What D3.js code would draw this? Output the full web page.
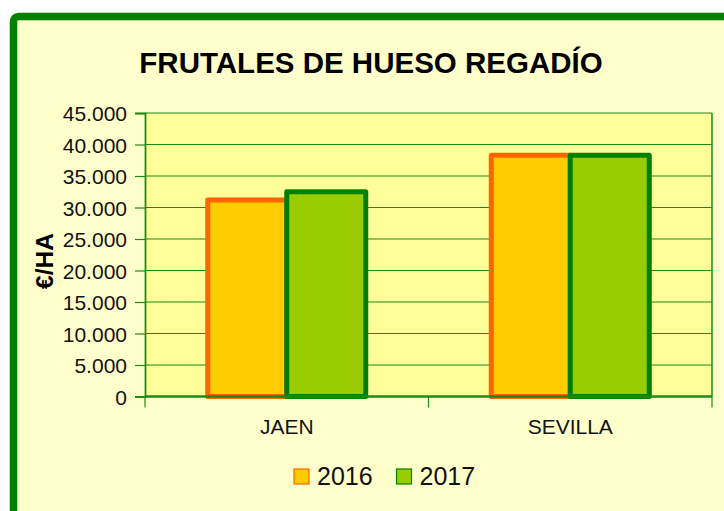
<!DOCTYPE html>
<html>
<head>
<meta charset="utf-8">
<script src="https://cdn.jsdelivr.net/npm/d3@7"></script>
<style>
  html, body { margin: 0; padding: 0; background: #fff; }
  svg { display: block; font-family: "Liberation Sans", Arial, sans-serif; }
</style>
</head>
<body>
<div id="chart"></div>
<script>
const categories = ["JAEN", "SEVILLA"]
const series = ["2016", "2017"]
const values2016 = [31200, 38300]
const values2017 = [32500, 38300]
const yTicks = [0, 5000, 10000, 15000, 20000, 25000, 30000, 35000, 40000, 45000]

const width = 724
const height = 511
const plot = { left: 145, right: 712, top: 113, bottom: 396.5 }

const fills = { "2016": "#FFCC00", "2017": "#99CC00" }
const strokes = { "2016": "#FF6600", "2017": "#008000" }

const svg = d3.select("#chart")
  .append("svg")
  .attr("width", width)
  .attr("height", height)

// outer frame, runs off the right and bottom edge like the original
svg.append("rect")
  .attr("x", 13.5)
  .attr("y", 16.5)
  .attr("width", 760)
  .attr("height", 560)
  .attr("rx", 5)
  .attr("fill", "#FFFFCC")
  .attr("stroke", "#008000")
  .attr("stroke-width", 7.5)

svg.append("text")
  .attr("x", 371)
  .attr("y", 73)
  .attr("text-anchor", "middle")
  .attr("font-size", "29.5px")
  .attr("font-weight", "bold")
  .attr("fill", "#000")
  .text("FRUTALES DE HUESO REGADÍO")

const y = d3.scaleLinear()
  .domain([0, 45000])
  .range([plot.bottom, plot.top])

const x0 = d3.scaleBand()
  .domain(categories)
  .range([plot.left, plot.right])
  .paddingInner(0.4427)
  .paddingOuter(0.2213)

const x1 = d3.scaleBand()
  .domain(series)
  .range([0, x0.bandwidth()])

// plot background
svg.append("rect")
  .attr("x", plot.left)
  .attr("y", plot.top)
  .attr("width", plot.right - plot.left)
  .attr("height", plot.bottom - plot.top)
  .attr("fill", "#FFFF99")

// grid lines
svg.append("g")
  .selectAll("line")
  .data(yTicks.filter(d => d > 0))
  .enter().append("line")
  .attr("x1", plot.left)
  .attr("x2", plot.right)
  .attr("y1", d => y(d))
  .attr("y2", d => y(d))
  .attr("stroke", "#1f8a12")
  .attr("stroke-width", 1.2)

// right frame of plot
svg.append("line")
  .attr("x1", plot.right).attr("x2", plot.right)
  .attr("y1", plot.top).attr("y2", plot.bottom)
  .attr("stroke", "#1f8a12")
  .attr("stroke-width", 1.5)

// y axis
const fmt = d3.formatLocale({ decimal: ",", thousands: ".", grouping: [3], currency: ["", "€"] }).format(",")
const yAxis = svg.append("g")
  .attr("transform", `translate(${plot.left},0)`)
  .call(d3.axisLeft(y).tickValues(yTicks).tickSize(10).tickPadding(8).tickFormat(fmt))
yAxis.select(".domain").attr("stroke", "#1f8a12").attr("stroke-width", 1.8)
yAxis.selectAll(".tick line").attr("stroke", "#1f8a12").attr("stroke-width", 1.2)
yAxis.selectAll(".tick text")
  .attr("font-size", "21px")
  .attr("font-family", "Liberation Sans, Arial, sans-serif")
  .attr("fill", "#111")
  .attr("dy", "0.36em")

svg.append("text")
  .attr("transform", "translate(53,261) rotate(-90)")
  .attr("text-anchor", "middle")
  .attr("font-size", "24.5px")
  .attr("font-weight", "bold")
  .attr("fill", "#000")
  .text("€/HA")

// bars
const rows = categories.map((c, i) => ({ cat: c, vals: [values2016[i], values2017[i]] }))
const groups = svg.append("g")
  .selectAll("g")
  .data(rows)
  .enter().append("g")
  .attr("transform", d => `translate(${x0(d.cat)},0)`)

groups.selectAll("rect")
  .data(d => series.map((s, j) => ({ key: s, value: d.vals[j] })))
  .enter().append("rect")
  .attr("x", d => x1(d.key))
  .attr("y", d => y(d.value))
  .attr("width", x1.bandwidth())
  .attr("height", d => plot.bottom - y(d.value))
  .attr("fill", d => fills[d.key])
  .attr("stroke", d => strokes[d.key])
  .attr("stroke-width", 5)
  .attr("stroke-linejoin", "round")

// x axis
const catEdges = [plot.left, plot.left + (plot.right - plot.left) / 2, plot.right]
svg.append("line")
  .attr("x1", plot.left).attr("x2", plot.right)
  .attr("y1", plot.bottom).attr("y2", plot.bottom)
  .attr("stroke", "#1f8a12")
  .attr("stroke-width", 2.5)
svg.append("g")
  .selectAll("line")
  .data(catEdges)
  .enter().append("line")
  .attr("x1", d => d).attr("x2", d => d)
  .attr("y1", plot.bottom).attr("y2", plot.bottom + 11)
  .attr("stroke", "#1f8a12")
  .attr("stroke-width", 1.2)

svg.append("g")
  .selectAll("text")
  .data(categories)
  .enter().append("text")
  .attr("x", d => x0(d) + x0.bandwidth() / 2)
  .attr("y", 434)
  .attr("text-anchor", "middle")
  .attr("font-size", "21px")
  .attr("fill", "#111")
  .text(d => d)

// legend
const legendX = [294, 396.5]
const legend = svg.append("g")
  .selectAll("g")
  .data(series)
  .enter().append("g")
  .attr("transform", (d, i) => `translate(${legendX[i]},469)`)

legend.append("rect")
  .attr("width", 15)
  .attr("height", 15)
  .attr("fill", d => fills[d])
  .attr("stroke", d => strokes[d])
  .attr("stroke-width", 1.2)

legend.append("text")
  .attr("x", 23)
  .attr("y", 16)
  .attr("font-size", "25px")
  .attr("fill", "#111")
  .text(d => d)
</script>
</body>
</html>
